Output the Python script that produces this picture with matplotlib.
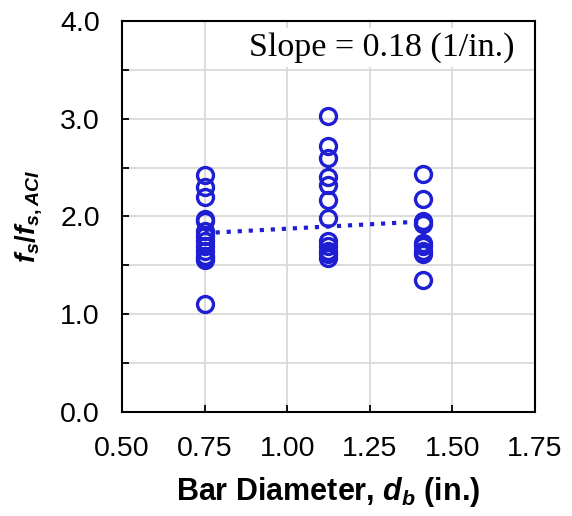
import matplotlib
matplotlib.use('Agg')
import matplotlib.pyplot as plt
import matplotlib.ticker as mtick

plt.rcParams['font.family'] = 'Liberation Sans'
plt.rcParams['mathtext.fontset'] = 'custom'
plt.rcParams['mathtext.it'] = 'Liberation Sans:bold:italic'
plt.rcParams['mathtext.rm'] = 'Liberation Sans:bold'
plt.rcParams['mathtext.bf'] = 'Liberation Sans:bold'

# bar diameters (in.) and measured stress ratios
d_075 = [2.42, 2.30, 2.20, 1.97, 1.95, 1.85, 1.80, 1.75, 1.70, 1.65, 1.60, 1.57, 1.55, 1.10]
d_1125 = [3.03, 2.72, 2.60, 2.40, 2.32, 2.17, 1.98, 1.75, 1.70, 1.65, 1.62, 1.58]
d_141 = [2.43, 2.18, 1.95, 1.92, 1.73, 1.70, 1.65, 1.62, 1.35]
diam = [0.75, 1.125, 1.41]
ratios = [d_075, d_1125, d_141]

slope = 0.18
intercept = 1.695

xticks = [0.50, 0.75, 1.00, 1.25, 1.50, 1.75]
yticks = [0.0, 1.0, 2.0, 3.0, 4.0]

blue = '#1E1ED2'

fig = plt.figure(figsize=(5.72, 5.16), dpi=100)
ax = fig.add_axes([0.2133, 0.2016, 0.722, 0.7578])

for d, r in zip(diam, ratios):
    ax.plot([d] * len(r), r, 'o', ms=11.5, mfc='none', mec=blue, mew=2.4, zorder=3)

xs = [diam[0], diam[-1]]
ax.plot(xs, [intercept + slope * x for x in xs], ':', color=blue, lw=3, zorder=2)

ax.set_xlim(0.5, 1.75)
ax.set_ylim(0, 4)
ax.set_xticks(xticks)
ax.set_xticklabels(['%.2f' % t for t in xticks])
ax.set_yticks(yticks)
ax.set_yticklabels(['%.1f' % t for t in yticks])
ax.yaxis.set_minor_locator(mtick.MultipleLocator(0.5))
ax.grid(True, which='both', color='#D9D9D9', lw=1.3)
ax.set_axisbelow(True)
ax.tick_params(which='both', direction='in', labelsize=20.5, length=5, width=1.3)
ax.tick_params(axis='x', pad=17)
ax.tick_params(axis='y', pad=16)
for s in ax.spines.values():
    s.set_linewidth(1.5)

ax.set_xlabel(r'Bar Diameter, $d_b$ (in.)', fontsize=22, fontweight='bold', labelpad=10)
ax.set_ylabel(r'$f_s/f_{s,ACI}$', fontsize=20)
ax.yaxis.set_label_coords(-0.19, 0.5)

ax.text(0.95, 0.932, 'Slope = 0.18 (1/in.)', transform=ax.transAxes, ha='right', va='center',
        family='Liberation Serif', fontsize=24.5,
        bbox=dict(facecolor='white', edgecolor='none', pad=3), zorder=4)

fig.savefig('out.png', dpi=100)
